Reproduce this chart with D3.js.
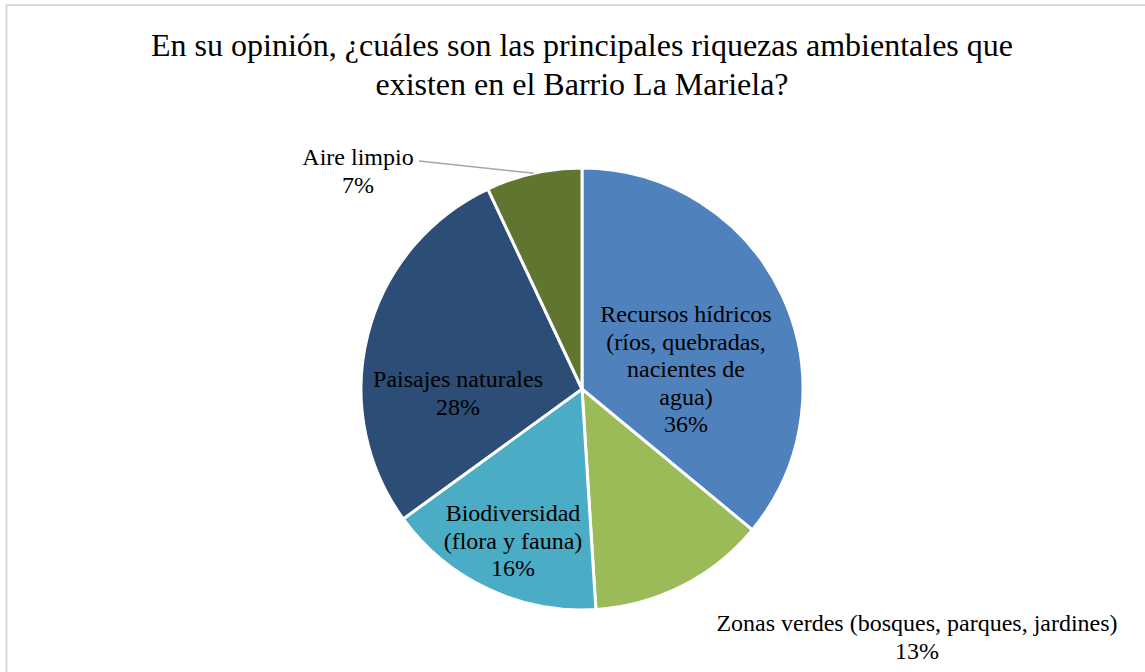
<!DOCTYPE html>
<html>
<head>
<meta charset="utf-8">
<script src="https://cdn.jsdelivr.net/npm/d3@7"></script>
<style>
  body { margin: 0; background: #fff; }
</style>
</head>
<body>
<div id="chart"></div>
<script>
const categories = [
  "Recursos hídricos (ríos, quebradas, nacientes de agua)",
  "Zonas verdes (bosques, parques, jardines)",
  "Biodiversidad (flora y fauna)",
  "Paisajes naturales",
  "Aire limpio"
];
const values = [36, 13, 16, 28, 7];
const colors = ["#4F81BD", "#9BBB59", "#4BACC6", "#2C4D75", "#5F7530"];
// label lines as Excel wrapped them
const labelLines = [
  ["Recursos hídricos", "(ríos, quebradas,", "nacientes de", "agua)", "36%"],
  ["Zonas verdes (bosques, parques, jardines)", "13%"],
  ["Biodiversidad", "(flora y fauna)", "16%"],
  ["Paisajes naturales", "28%"],
  ["Aire limpio", "7%"]
];

const width = 1145, height = 672;
const cx = 582, cy = 389, r = 221;
const font = "'Liberation Serif', 'Times New Roman', 'DejaVu Serif', serif";

const svg = d3.select("#chart").append("svg")
  .attr("width", width)
  .attr("height", height)
  .style("display", "block");

// chart frame
svg.append("rect")
  .attr("x", 6.5).attr("y", 5)
  .attr("width", width + 20).attr("height", height + 20)
  .attr("fill", "none")
  .attr("stroke", "#d9d9d9")
  .attr("stroke-width", 2);

const titleLines = [
  "En su opinión, ¿cuáles son las principales riquezas ambientales que",
  "existen en el Barrio La Mariela?"
];
titleLines.forEach((l, i) => {
  svg.append("text")
    .attr("x", 582).attr("y", 56 + i * 39)
    .attr("text-anchor", "middle")
    .attr("font-family", font)
    .attr("font-size", 32)
    .text(l);
});

const pie = d3.pie().sort(null).value(d => d);
const arcs = pie(values);
const arc = d3.arc().innerRadius(0).outerRadius(r);

const g = svg.append("g").attr("transform", `translate(${cx},${cy})`);

g.selectAll("path")
  .data(arcs)
  .enter()
  .append("path")
  .attr("d", arc)
  .attr("fill", (d, i) => colors[i])
  .attr("stroke", "#fff")
  .attr("stroke-width", 3);

// label positions (relative to centre), Excel "best fit"
const labelPos = [
  { x: 104, y: -67 },
  { x: 335, y: 242 },
  { x: -69, y: 132 },
  { x: -124, y: -2 },
  { x: -224, y: -224 }
];
const lineH = 27.5;

labelLines.forEach((lines, i) => {
  const p = labelPos[i];
  const t = g.append("text")
    .attr("text-anchor", "middle")
    .attr("font-family", font)
    .attr("font-size", 24)
    .attr("fill", "#000");
  lines.forEach((l, j) => {
    t.append("tspan")
      .attr("x", p.x)
      .attr("y", p.y + j * lineH)
      .text(l);
  });
});

// leader line for Aire limpio
const mid = (arcs[4].startAngle + arcs[4].endAngle) / 2;
const edge = [Math.sin(mid) * r, -Math.cos(mid) * r];
g.append("line")
  .attr("x1", -163).attr("y1", -228)
  .attr("x2", edge[0]).attr("y2", edge[1])
  .attr("stroke", "#a6a6a6")
  .attr("stroke-width", 1.5);
</script>
</body>
</html>
